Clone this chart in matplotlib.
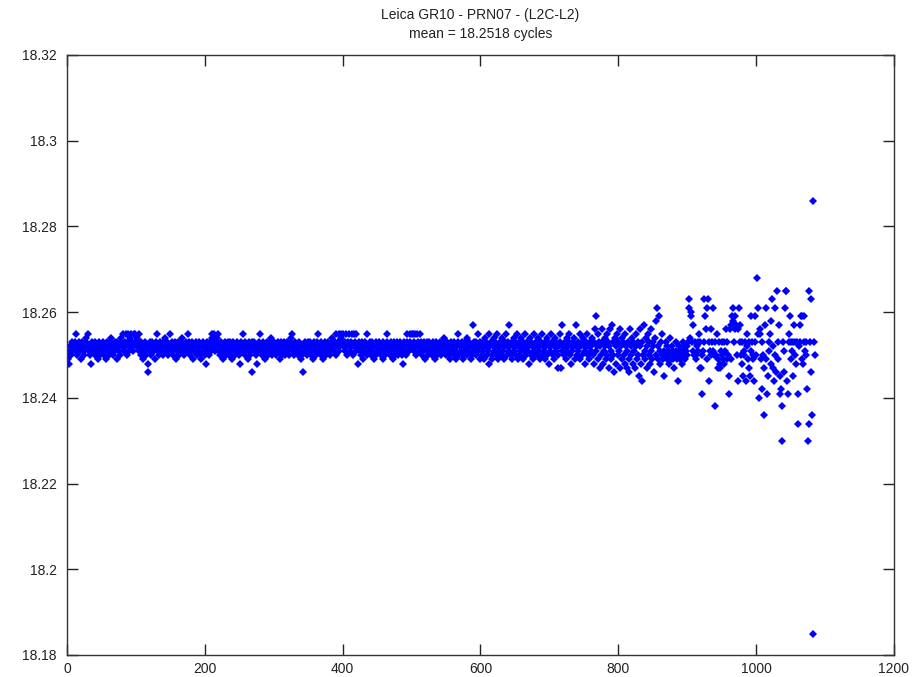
import numpy as np
import matplotlib
matplotlib.use('Agg')
import matplotlib.pyplot as plt
from matplotlib.ticker import FuncFormatter

# L2C-L2 bias per epoch, in thousandths of a cycle above 18.2
quiet_part = [
    49, 50, 48, 51, 52, 50, 53, 52, 51, 52, 53, 52, 55, 51, 50, 52, 53, 52, 51, 49, 52, 53, 52, 50, 51, 52, 53, 54, 52, 55, 52, 51, 50, 52, 48, 53, 52, 51, 52, 50, 53, 52, 52, 51, 49, 52, 53, 50, 52, 51,
    52, 53, 51, 50, 52, 49, 52, 53, 51, 52, 50, 53, 52, 54, 51, 52, 50, 52, 53, 51, 52, 49, 53, 52, 51, 52, 50, 53, 54, 52, 55, 52, 51, 53, 55, 52, 50, 53, 55, 51, 52, 54, 55, 53, 52, 51, 55, 53, 55, 52,
    54, 52, 53, 55, 51, 52, 50, 53, 52, 51, 49, 52, 53, 50, 51, 52, 48, 46, 52, 53, 51, 50, 52, 53, 52, 51, 49, 52, 53, 52, 55, 51, 52, 50, 53, 52, 51, 52, 53, 50, 52, 54, 51, 52, 53, 52, 50, 51, 52, 55,
    52, 53, 51, 50, 52, 53, 52, 49, 51, 52, 53, 52, 50, 51, 52, 53, 54, 52, 51, 50, 52, 53, 52, 51, 52, 55, 53, 52, 50, 51, 52, 53, 49, 52, 51, 52, 53, 50, 52, 52, 51, 53, 52, 50, 49, 52, 53, 52, 51, 50,
    48, 52, 53, 51, 52, 50, 53, 52, 51, 54, 55, 52, 53, 55, 51, 52, 54, 53, 55, 52, 51, 50, 52, 53, 52, 49, 51, 52, 53, 50, 52, 51, 53, 52, 50, 52, 53, 51, 49, 52, 53, 52, 51, 50, 52, 53, 52, 51, 52, 50,
    48, 52, 53, 51, 52, 55, 52, 50, 53, 51, 52, 49, 52, 53, 51, 50, 52, 53, 46, 52, 51, 53, 52, 50, 52, 48, 51, 52, 53, 55, 52, 51, 50, 52, 53, 52, 51, 49, 52, 53, 50, 52, 51, 53, 52, 54, 52, 50, 51, 52,
    53, 52, 51, 50, 52, 53, 52, 51, 49, 52, 53, 50, 52, 51, 53, 52, 50, 52, 53, 51, 52, 50, 53, 52, 54, 55, 52, 51, 50, 52, 53, 52, 51, 52, 50, 53, 52, 51, 52, 49, 50, 52, 46, 52, 53, 51, 52, 50, 53, 52,
    51, 52, 53, 50, 52, 51, 49, 52, 53, 52, 50, 51, 53, 55, 52, 51, 52, 53, 50, 52, 51, 49, 52, 53, 52, 50, 51, 52, 53, 52, 51, 50, 52, 53, 54, 52, 51, 52, 53, 50, 55, 52, 53, 55, 51, 52, 54, 55, 53, 52,
    55, 52, 53, 51, 55, 52, 50, 53, 55, 52, 51, 53, 55, 52, 50, 52, 55, 53, 51, 55, 52, 48, 52, 53, 51, 52, 50, 53, 52, 49, 51, 52, 53, 52, 50, 55, 52, 51, 53, 52, 50, 52, 53, 51, 52, 49, 52, 53, 50, 52,
    51, 52, 53, 52, 50, 51, 52, 53, 49, 52, 51, 50, 52, 55, 53, 52, 51, 50, 52, 53, 52, 51, 49, 52, 53, 50, 52, 51, 53, 52, 50, 52, 53, 52, 51, 50, 48, 52, 53, 51, 52, 50, 53, 55, 52, 51, 55, 53, 52, 55,
    52, 55, 53, 51, 55, 52, 50, 55, 53, 52, 51, 55, 52, 53, 50, 51, 52, 53, 52, 49, 52, 51, 53, 50, 52, 53, 51, 52, 50, 52, 53, 52, 51, 49, 52, 53, 50, 52, 51, 52, 53, 52, 50, 51, 52, 53, 54, 52, 51, 50,
    52, 53, 51, 50, 52, 49, 53, 52, 51, 52, 50, 53, 52, 51, 49, 52, 55, 53, 50, 52, 51, 52, 53, 50, 49, 52, 53, 51, 52, 50, 54, 52, 53, 51, 52, 49, 50, 52, 57, 53, 51, 52, 50, 53, 52, 55, 51, 52, 49, 53,
]

widening_part = [
    52, 50, 53, 51, 49, 52, 54, 53, 50, 52, 51, 55, 48, 52, 53, 50, 49, 52, 54, 51, 53, 52, 50, 55, 52, 49, 51, 53, 52, 50, 54, 52, 51, 49, 53, 52, 55, 50, 52, 53,
    51, 57, 52, 50, 53, 49, 52, 54, 51, 53, 50, 52, 55, 49, 52, 53, 51, 50, 54, 52, 53, 49, 51, 52, 55, 50, 53, 52, 51, 48, 52, 54, 50, 53, 52, 49, 51, 55, 52, 50,
    53, 52, 50, 54, 51, 49, 52, 53, 55, 50, 52, 51, 53, 49, 52, 54, 50, 53, 52, 48, 51, 55, 52, 53, 50, 49, 52, 54, 51, 53, 52, 47, 50, 52, 55, 53, 47, 51, 57, 52,
    50, 53, 52, 49, 54, 51, 52, 55, 53, 50, 52, 48, 51, 53, 52, 54, 49, 52, 57, 50, 53, 51, 52, 55, 49, 52, 53, 50, 54, 52, 51, 48, 53, 52, 55, 50, 52, 49, 53, 51,
]

noisy_part = [
    52, 54, 50, 53, 48, 56, 51, 59, 52, 49, 55, 53, 47, 52, 50, 56, 53, 48, 51, 54, 52, 49, 55, 50, 53, 47, 52, 56, 51, 49, 57, 53, 50, 46, 54,
    52, 48, 55, 50, 53, 51, 47, 56, 52, 49, 54, 53, 50, 48, 55, 52, 51, 47, 53, 49, 46, 56, 52, 50, 54, 48, 53, 51, 47, 55, 52, 49, 53, 50, 45,
    52, 56, 48, 53, 44, 50, 57, 51, 49, 54, 52, 47, 55, 50, 53, 48, 56, 51, 49, 53, 52, 46, 54, 50, 58, 61, 49, 52, 59, 51, 48, 53, 50, 55, 49,
    45, 51, 50, 53, 49, 52, 50, 48, 51, 54, 49, 50, 52, 51, 49, 47, 50, 51, 53, 49, 44, 50, 52, 51, 49, 50, 48, 51, 53, 50, 52, 49, 51, 50, 52,
]

final_part = [
    53, 63, 61, 54, 59, 60, 53, 57, 51, 50, 53, 50, 49, 52, 53, 51, 55, 47, 53, 47, 41, 50, 51, 53, 63, 59, 56, 61, 49, 63, 53, 44, 51, 56, 50, 53, 51,
    61, 50, 38, 53, 50, 55, 49, 47, 53, 47, 48, 51, 53, 50, 49, 53, 48, 51, 56, 53, 49, 50, 41, 45, 56, 57, 49, 59, 61, 58, 53, 56, 59, 57, 50, 56, 44,
    61, 53, 57, 50, 48, 53, 45, 51, 50, 53, 44, 55, 52, 49, 47, 53, 45, 51, 59, 53, 49, 50, 44, 59, 53, 50, 68, 55, 61, 40, 55, 56, 49, 42, 53, 50, 36,
    47, 57, 49, 61, 41, 45, 53, 51, 55, 48, 58, 63, 52, 47, 44, 61, 50, 46, 65, 53, 49, 57, 45, 41, 42, 38, 30, 53, 46, 51, 61, 65, 65, 44, 41, 55, 53,
    59, 53, 49, 51, 45, 53, 57, 50, 53, 48, 53, 41, 34, 52, 57, 53, 59, 49, 59, 48, 53, 59, 51, 50, 53, 42, 30, 65, 34, 53, 63, 46, 36, 86, -15, 53, 50,
]

bias = 18.2 + np.array(quiet_part + widening_part + noisy_part + final_part) / 1000.0
epoch = np.arange(1, len(bias) + 1)

plt.rcParams['font.family'] = ['Liberation Sans', 'DejaVu Sans']

fig = plt.figure(figsize=(9.14, 6.77), dpi=100)
ax = fig.add_axes([0.0733, 0.0325, 0.9048, 0.8863])

ax.plot(epoch, bias, linestyle='none', marker='D', markersize=4.0, color='#0000ff', markeredgewidth=0)

ax.set_xlim(0, 1200)
ax.set_ylim(18.18, 18.32)
ax.set_xticks(np.arange(0, 1201, 200))
ax.set_yticks(np.arange(18.18, 18.3201, 0.02))
ax.yaxis.set_major_formatter(FuncFormatter(lambda v, p: '%g' % round(v, 2)))

ax.tick_params(direction='in', length=8, width=1, top=True, right=True,
               labelsize=10, colors='#222222')
ax.tick_params(axis='y', pad=7.5)
ax.tick_params(axis='x', pad=5)
for s in ax.spines.values():
    s.set_color('#333333')
    s.set_linewidth(1)

ax.set_title('Leica GR10 - PRN07 - (L2C-L2)\nmean = 18.2518 cycles', fontsize=10, pad=12,
             linespacing=1.45, color='#222222')

fig.savefig('out.png', dpi=100)
